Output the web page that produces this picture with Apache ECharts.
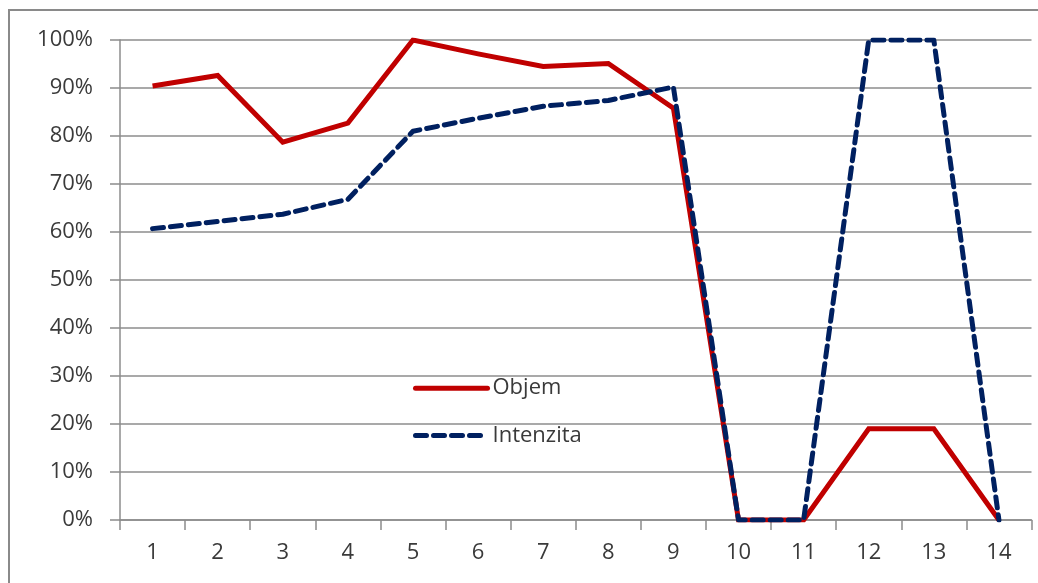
<!DOCTYPE html>
<html>
<head>
<meta charset="utf-8">
<script src="https://cdn.jsdelivr.net/npm/echarts@6/dist/echarts.min.js"></script>
<style>
  html, body { margin: 0; padding: 0; background: #fff; }
  #chart { width: 1038px; height: 583px; }
</style>
</head>
<body>
<div id="chart"></div>
<script>
// Categories on the horizontal axis
const categories = ['1', '2', '3', '4', '5', '6', '7', '8', '9', '10', '11', '12', '13', '14'];
// Share values (0..1)
const objem = [0.904, 0.926, 0.787, 0.827, 1.0, 0.971, 0.945, 0.951, 0.858, 0, 0, 0.19, 0.19, 0];
const intenzita = [0.607, 0.622, 0.637, 0.668, 0.810, 0.837, 0.862, 0.874, 0.902, 0, 0, 1.0, 1.0, 0];
// Series names
const seriesNames = ['Objem', 'Intenzita'];

const FONT = 'Open Sans';
const TEXT = '#3a3a3a';
const GRID = '#8c8c8c';

const chart = echarts.init(document.getElementById('chart'), null, { renderer: 'canvas' });
chart.setOption({
  animation: false,
  backgroundColor: '#ffffff',
  textStyle: { fontFamily: FONT },
  graphic: [{
    type: 'rect',
    shape: { x: 9, y: 10, width: 1200, height: 800 },
    style: { fill: 'none', stroke: '#8a8a8a', lineWidth: 2 },
    silent: true
  }],
  grid: { left: 120, top: 40, right: 6.5, bottom: 63, containLabel: false },
  legend: {
    orient: 'vertical',
    left: 413,
    top: 377,
    padding: 0,
    itemWidth: 72,
    itemHeight: 28,
    itemGap: 25,
    itemStyle: { opacity: 0 },
    lineStyle: { width: 5, cap: 'round' },
    textStyle: { fontFamily: FONT, fontSize: 22, color: TEXT },
    data: seriesNames
  },
  xAxis: {
    type: 'category',
    data: categories,
    boundaryGap: true,
    axisLine: { show: true, lineStyle: { color: GRID, width: 1.5 } },
    axisTick: { show: true, length: 10, inside: false, alignWithLabel: false, lineStyle: { color: GRID, width: 1.5 } },
    axisLabel: { fontFamily: FONT, fontSize: 22, color: TEXT, margin: 22 },
    splitLine: { show: false }
  },
  yAxis: {
    type: 'value',
    min: 0,
    max: 1,
    interval: 0.1,
    axisLine: { show: true, lineStyle: { color: GRID, width: 1.5 } },
    axisTick: { show: true, length: 10, inside: false, lineStyle: { color: GRID, width: 1.5 } },
    axisLabel: {
      fontFamily: FONT, fontSize: 22, color: TEXT, margin: 27,
      formatter: v => Math.round(v * 100) + '%'
    },
    splitLine: { show: true, lineStyle: { color: GRID, width: 1.5 } }
  },
  series: [
    {
      name: seriesNames[0],
      type: 'line',
      data: objem,
      symbol: 'none',
      lineStyle: { color: '#c00000', width: 5, join: 'miter' },
      itemStyle: { color: '#c00000' },
      z: 2
    },
    {
      name: seriesNames[1],
      type: 'line',
      data: intenzita,
      symbol: 'none',
      lineStyle: { color: '#002060', width: 5, type: [11, 7], cap: 'round', join: 'round' },
      itemStyle: { color: '#002060' },
      z: 3
    }
  ]
});
</script>
</body>
</html>
